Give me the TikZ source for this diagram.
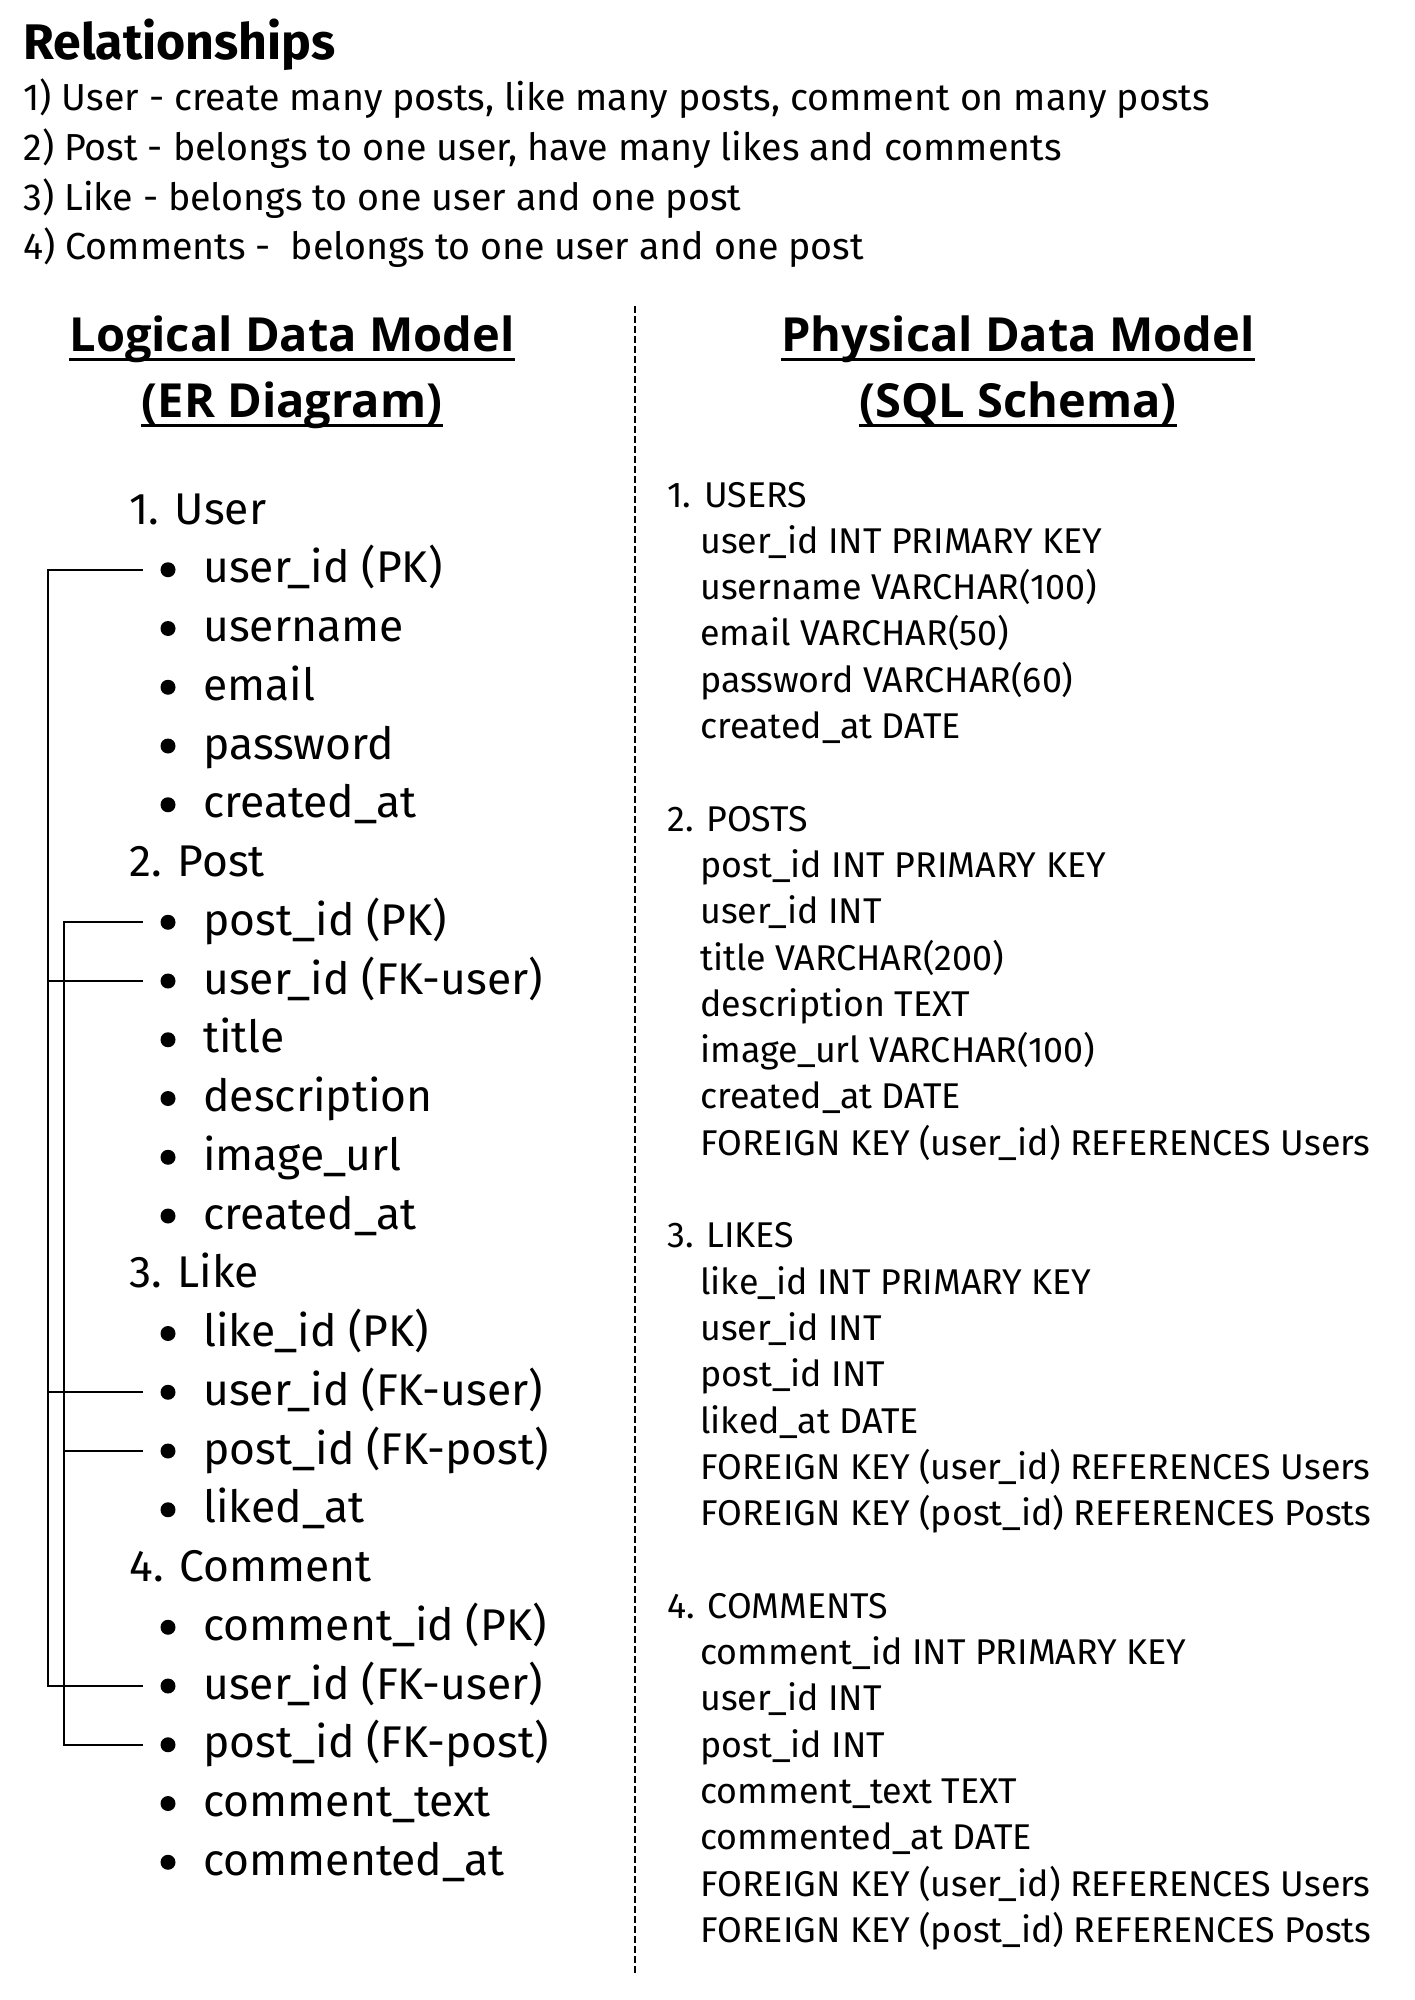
\documentclass[tikz,border=0pt]{standalone}
\usepackage{fontspec}
\setmainfont{Fira Sans}
\newfontfamily\headfont{Open Sans}
\usetikzlibrary{positioning}
\tikzset{
  every node/.style={inner sep=0pt,anchor=base west},
  reltext/.style={font=\fontsize{18.8}{22}\selectfont},
  head/.style={font=\headfont\bfseries\fontsize{23.5}{28}\selectfont,anchor=base},
  ent/.style={font=\fontsize{22.2}{26}\selectfont},
  sql/.style={font=\fontsize{17.9}{21}\selectfont},
  dot/.style={circle,fill,inner sep=0pt,minimum size=7.5pt,anchor=center},
  link/.style={line width=0.8pt},
  ul/.style={line width=1.5pt}
}

\begin{document}
\begin{tikzpicture}[x=0.5pt,y=-0.5pt]
    \fill[white] (0,0) rectangle (1414,2000);
    \useasboundingbox (0,0) rectangle (1414,2000);

    \node[font=\bfseries\fontsize{25}{30}\selectfont] (title) at (23,60) {Relationships};
    \foreach \t [count=\i] in {{1) User - create many posts, like many posts, comment on many posts},
        {2) Post - belongs to one user, have many likes and comments},
        {3) Like - belongs to one user and one post},
        {4) Comments - \ belongs to one user and one post}}
        \node[reltext] (rel\i) at (23,{111+(\i-1)*49.6}) {\t};

    \node[head] (lhead1) at (292,352) {Logical Data Model};
    \node[head] (lhead2) at (292,418) {(ER Diagram)};
    \node[head] (phead1) at (1018,352) {Physical Data Model};
    \node[head] (phead2) at (1018,418) {(SQL Schema)};
    \foreach \h in {lhead1,lhead2,phead1,phead2}
        \draw[ul] ([yshift=-4pt]\h.base west) -- ([yshift=-4pt]\h.base east);

    \coordinate (divtop) at (635,306);
    \coordinate (divbot) at (635,1976);
    \draw[dashed,dash pattern=on 3.5pt off 1.5pt,line width=0.6pt] (divtop) -- (divbot);

    % ER diagram
    \foreach \n/\t/\r in {usr/1. User/0, pst/2. Post/6, lk/3. Like/13, cm/4. Comment/18}
        \node[ent] (\n) at (129,{524+\r*58.75}) {\t};
    \foreach \n/\t/\r in {usr-id/user\_id (PK)/1, usr-name/username/2, usr-mail/email/3,
        usr-pw/password/4, usr-at/created\_at/5,
        pst-id/post\_id (PK)/7, pst-uid/user\_id (FK-user)/8, pst-title/title/9,
        pst-desc/description/10, pst-img/image\_url/11, pst-at/created\_at/12,
        lk-id/like\_id (PK)/14, lk-uid/user\_id (FK-user)/15, lk-pid/post\_id (FK-post)/16,
        lk-at/liked\_at/17,
        cm-id/comment\_id (PK)/19, cm-uid/user\_id (FK-user)/20, cm-pid/post\_id (FK-post)/21,
        cm-text/comment\_text/22, cm-at/commented\_at/23}{
        \node[ent] (\n) at (203,{524+\r*58.75}) {\t};
        \node[dot] (\n-b) at (168,{511+\r*58.75}) {};
        \coordinate (\n-e) at ([xshift=-8.5pt]\n-b.west);
    }

    \coordinate (ubus) at (48,0);
    \coordinate (pbus) at (64,0);
    \draw[link] (usr-id-e) -- (usr-id-e -| ubus) -- (cm-uid-e -| ubus) -- (cm-uid-e);
    \foreach \n in {pst-uid,lk-uid}
        \draw[link] (\n-e) -- (\n-e -| ubus);
    \draw[link] (pst-id-e) -- (pst-id-e -| pbus) -- (cm-pid-e -| pbus) -- (cm-pid-e);
    \draw[link] (lk-pid-e) -- (lk-pid-e -| pbus);

    % SQL schema
    \foreach \n/\t/\r in {tusers/1. USERS/0, tposts/2. POSTS/7, tlikes/3. LIKES/16, tcomments/4. COMMENTS/24}
        \node[sql] (\n) at (667,{507+\r*46.3}) {\t};
    \foreach \t/\r in {user\_id INT PRIMARY KEY/1, username VARCHAR(100)/2, email VARCHAR(50)/3,
        password VARCHAR(60)/4, created\_at DATE/5,
        post\_id INT PRIMARY KEY/8, user\_id INT/9, title VARCHAR(200)/10, description TEXT/11,
        image\_url VARCHAR(100)/12, created\_at DATE/13,
        FOREIGN KEY (user\_id) REFERENCES Users/14,
        like\_id INT PRIMARY KEY/17, user\_id INT/18, post\_id INT/19, liked\_at DATE/20,
        FOREIGN KEY (user\_id) REFERENCES Users/21, FOREIGN KEY (post\_id) REFERENCES Posts/22,
        comment\_id INT PRIMARY KEY/25, user\_id INT/26, post\_id INT/27, comment\_text TEXT/28,
        commented\_at DATE/29,
        FOREIGN KEY (user\_id) REFERENCES Users/30, FOREIGN KEY (post\_id) REFERENCES Posts/31}
        \node[sql] (col\r) at (700,{507+\r*46.3}) {\t};
\end{tikzpicture}
\end{document}
